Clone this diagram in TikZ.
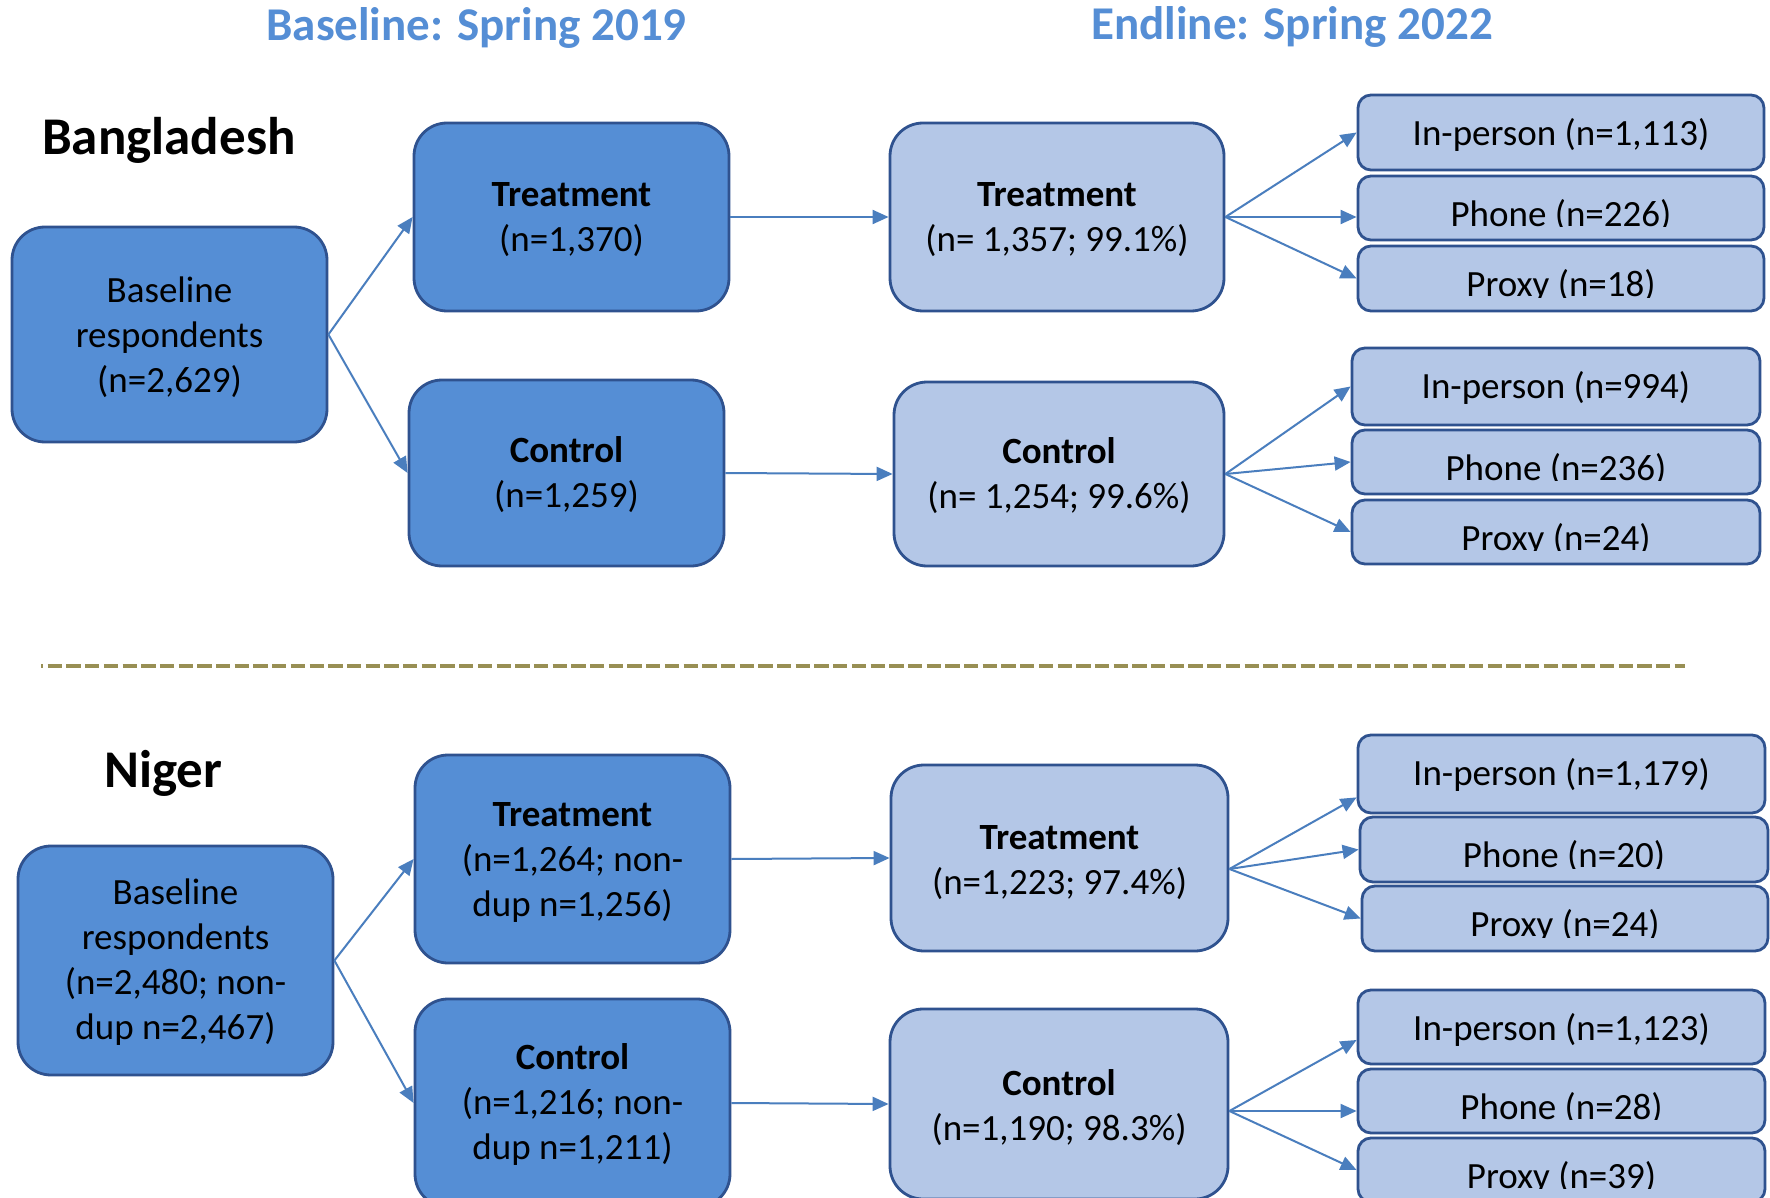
\documentclass[tikz,border=0pt]{standalone}
\usepackage{fontspec}
\setmainfont{Carlito}
\usetikzlibrary{arrows.meta,calc}
\definecolor{darkf}{RGB}{85,142,213}
\definecolor{lightf}{RGB}{180,199,231}
\definecolor{bordc}{RGB}{47,82,143}
\definecolor{arrc}{RGB}{74,126,190}
\definecolor{titlec}{RGB}{85,142,213}
\definecolor{dashc}{RGB}{152,143,84}
\tikzset{
  box/.style={draw=bordc, line width=2.8pt, rounded corners=33pt, inner sep=0pt},
  dbox/.style={box, fill=darkf},
  lbox/.style={box, fill=lightf},
  sbox/.style={draw=bordc, line width=2.8pt, rounded corners=13pt, fill=lightf, inner sep=0pt},
  txt/.style={font=\fontsize{37}{45}\selectfont, align=center, inner sep=0pt, anchor=base},
  ttl/.style={font=\fontsize{47}{56}\selectfont\bfseries, text=titlec, inner sep=0pt, anchor=base},
  ctry/.style={font=\fontsize{53}{62}\selectfont\bfseries, inner sep=0pt, anchor=base west},
  arr/.style={draw=arrc, line width=2pt, -{Triangle[length=16pt,width=14pt]}},
  sep/.style={draw=dashc, line width=4pt, dash pattern=on 14.3pt off 4.4pt, dash phase=12pt},
}
\newcommand{\clipped}[3]{%
  \begin{scope}
    \clip ($(#1.north west)+(-5,-5)$) rectangle ($(#1.south east)+(5,-15)$);
    \node[txt] (#2) at ($(#1.north)+(0,51.5)$) {#3};
  \end{scope}}
\begin{document}
\begin{tikzpicture}[x=1pt,y=-1pt]
\useasboundingbox (0,0) rectangle (1770,1198);
\clip (0,0) rectangle (1770,1198);
\fill[white] (0,0) rectangle (1770,1198);

% titles
\node[ttl] (t1) at (476.5,41) {Baseline: Spring 2019};
\node[ttl] (t2) at (1292,40) {Endline: Spring 2022};
\node[ctry] (c1) at (42,155) {Bangladesh};
\node[ctry] (c2) at (104,787.5) {Niger};

% separator
\coordinate (sepL) at (41,666);
\coordinate (sepR) at (1685,666);
\draw[sep] (sepL) -- (sepR);

% ---------- Bangladesh ----------
\node[dbox, minimum width=315pt, minimum height=215pt] (bdbase) at (169.5,334.5) {};
\node[dbox, minimum width=315pt, minimum height=188pt] (bdtreat) at (571.5,217) {};
\node[dbox, minimum width=315pt, minimum height=186pt] (bdctrl) at (566.5,473) {};
\node[lbox, minimum width=334pt, minimum height=188pt] (bdetreat) at (1057,217) {};
\node[lbox, minimum width=330pt, minimum height=184pt] (bdectrl) at (1059,474) {};
\node[sbox, minimum width=406pt, minimum height=75pt] (bdip) at (1561,132.5) {};
\node[sbox, minimum width=406pt, minimum height=64pt] (bdph) at (1561,208) {};
\node[sbox, minimum width=406pt, minimum height=65pt] (bdpx) at (1561,278.5) {};
\node[sbox, minimum width=408pt, minimum height=77pt] (bdcip) at (1556,386.5) {};
\node[sbox, minimum width=408pt, minimum height=64pt] (bdcph) at (1556,462) {};
\node[sbox, minimum width=408pt, minimum height=64pt] (bdcpx) at (1556,532) {};

\node[txt] (tbdbase) at (169.5,392) {Baseline\\respondents\\(n=2,629)};
\node[txt] (tbdtreat) at (571.5,252) {\textbf{Treatment}\\(n=1,370)};
\node[txt] (tbdctrl) at (566.5,507) {\textbf{Control}\\(n=1,259)};
\node[txt] (tbdetreat) at (1057,252) {\textbf{Treatment}\\(n= 1,357; 99.1\%)};
\node[txt] (tbdectrl) at (1059,508) {\textbf{Control}\\(n= 1,254; 99.6\%)};
\clipped{bdip}{tbdip}{In-person (n=1,113)}
\clipped{bdph}{tbdph}{Phone (n=226)}
\clipped{bdpx}{tbdpx}{Proxy (n=18)}
\clipped{bdcip}{tbdcip}{In-person (n=994)}
\clipped{bdcph}{tbdcph}{Phone (n=236)}
\clipped{bdcpx}{tbdcpx}{Proxy (n=24)}

\draw[arr] (bdbase.east) -- (bdtreat.west);
\draw[arr] (bdbase.east) -- (bdctrl.west);
\draw[arr] (bdtreat.east) -- (bdetreat.west);
\draw[arr] (bdctrl.east) -- (bdectrl.west);
\draw[arr] (bdetreat.east) -- (bdip.west);
\draw[arr] (bdetreat.east) -- (bdph.west |- bdetreat.east);
\draw[arr] (bdetreat.east) -- (bdpx.west);
\draw[arr] (bdectrl.east) -- (bdcip.west);
\draw[arr] (bdectrl.east) -- (bdcph.west);
\draw[arr] (bdectrl.east) -- (bdcpx.west);

% ---------- Niger ----------
\node[dbox, minimum width=315pt, minimum height=229pt] (nbase) at (175.5,960.5) {};
\node[dbox, minimum width=315pt, minimum height=208pt] (ntreat) at (572.5,859) {};
\node[dbox, minimum width=315pt, minimum height=208pt] (nctrl) at (572.5,1103) {};
\node[lbox, minimum width=337pt, minimum height=186pt] (netreat) at (1059.5,858) {};
\node[lbox, minimum width=338pt, minimum height=190pt] (nectrl) at (1059,1104) {};
\node[sbox, minimum width=407pt, minimum height=78pt] (nip) at (1561.5,774) {};
\node[sbox, minimum width=408pt, minimum height=65pt] (nph) at (1564,849.5) {};
\node[sbox, minimum width=406pt, minimum height=65pt] (npx) at (1565,918.5) {};
\node[sbox, minimum width=407pt, minimum height=74pt] (ncip) at (1561.5,1027) {};
\node[sbox, minimum width=407pt, minimum height=64pt] (ncph) at (1561.5,1101) {};
\node[sbox, minimum width=407pt, minimum height=64pt] (ncpx) at (1561.5,1170) {};

\node[txt] (tnbase) at (175.5,1039) {Baseline\\respondents\\(n=2,480; non-\\dup n=2,467)};
\node[txt] (tntreat) at (572.5,916) {\textbf{Treatment}\\(n=1,264; non-\\dup n=1,256)};
\node[txt] (tnctrl) at (572.5,1159) {\textbf{Control}\\(n=1,216; non-\\dup n=1,211)};
\node[txt] (tnetreat) at (1059.5,894) {\textbf{Treatment}\\(n=1,223; 97.4\%)};
\node[txt] (tnectrl) at (1059,1140) {\textbf{Control}\\(n=1,190; 98.3\%)};
\clipped{nip}{tnip}{In-person (n=1,179)}
\clipped{nph}{tnph}{Phone (n=20)}
\clipped{npx}{tnpx}{Proxy (n=24)}
\clipped{ncip}{tncip}{In-person (n=1,123)}
\clipped{ncph}{tncph}{Phone (n=28)}
\clipped{ncpx}{tncpx}{Proxy (n=39)}

\draw[arr] (nbase.east) -- (ntreat.west);
\draw[arr] (nbase.east) -- (nctrl.west);
\draw[arr] (ntreat.east) -- (netreat.west);
\draw[arr] (nctrl.east) -- (nectrl.west);
\draw[arr] ($(netreat.east)+(0,11)$) -- ($(nip.south west)+(0,-17)$);
\draw[arr] ($(netreat.east)+(0,11)$) -- (nph.west);
\draw[arr] ($(netreat.east)+(0,11)$) -- (npx.west);
\draw[arr] ($(nectrl.east)+(0,7)$) -- ($(ncip.west)+(0,13)$);
\draw[arr] ($(nectrl.east)+(0,7)$) -- ($(ncph.west)+(0,10)$);
\draw[arr] ($(nectrl.east)+(0,7)$) -- (ncpx.west);
\end{tikzpicture}
\end{document}
